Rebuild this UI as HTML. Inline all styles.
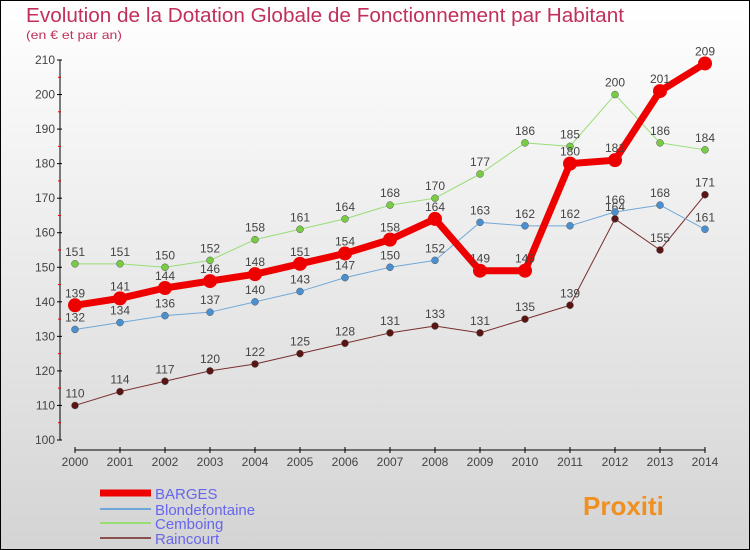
<!DOCTYPE html>
<html><head><meta charset="utf-8"><style>
body{margin:0}
#c{width:750px;height:550px;position:relative;overflow:hidden}
svg text{font-family:"Liberation Sans",sans-serif}
</style></head><body>
<div id="c">
<svg id="s" width="750" height="550" xmlns="http://www.w3.org/2000/svg">
<defs><linearGradient id="bg" x1="0" y1="0" x2="0" y2="1"><stop offset="0" stop-color="#ffffff"/><stop offset="1" stop-color="#d4d4d4"/></linearGradient></defs>
<rect x="0.5" y="0.5" width="749" height="549" fill="url(#bg)" stroke="#000"/>
<text x="26" y="22" font-size="20" fill="#c0305a" textLength="598" lengthAdjust="spacingAndGlyphs">Evolution de la Dotation Globale de Fonctionnement par Habitant</text>
<text x="26" y="39" font-size="12" fill="#c0305a" textLength="96" lengthAdjust="spacingAndGlyphs">(en € et par an)</text>
<g id="axes"></g><g id="series"></g><g id="legend"></g>
</svg></div>
<script>
const years=[2000,2001,2002,2003,2004,2005,2006,2007,2008,2009,2010,2011,2012,2013,2014];
const barges=[139,141,144,146,148,151,154,158,164,149,149,180,181,201,209];
const blondefontaine=[132,134,136,137,140,143,147,150,152,163,162,162,166,168,161];
const cemboing=[151,151,150,152,158,161,164,168,170,177,186,185,200,186,184];
const raincourt=[110,114,117,120,122,125,128,131,133,131,135,139,164,155,171];
const yTicks=[100,110,120,130,140,150,160,170,180,190,200,210];
const NS="http://www.w3.org/2000/svg";
const x=i=>75+i*45;
const y=v=>440-(v-100)*380/110;
function mk(t,a,p){const e=document.createElementNS(NS,t);for(const k in a)e.setAttribute(k,a[k]);p.appendChild(e);return e;}
const ax=document.getElementById('axes');
let yl=mk('line',{x1:60,y1:y(210),x2:60,y2:y(100),stroke:'#000'},ax);


yTicks.forEach(v=>{mk('line',{x1:57,x2:62,y1:y(v),y2:y(v),stroke:'#000'},ax);
 if(v<210)mk('line',{x1:58,x2:61,y1:y(v+5),y2:y(v+5),stroke:'#e00'},ax);
 const t=mk('text',{x:55,y:y(v)+4,'font-size':12,fill:'#444','text-anchor':'end'},ax);t.textContent=v;
 
 });
let xl=mk('line',{x1:x(0),y1:450,x2:x(14),y2:450,stroke:'#000'},ax);


years.forEach((yr,i)=>{mk('line',{x1:x(i),x2:x(i),y1:447,y2:453,stroke:'#000'},ax);
 const t=mk('text',{x:x(i),y:466,'font-size':12,fill:'#444','text-anchor':'middle'},ax);t.textContent=yr;
 
 });
const S=[
 {n:'raincourt',d:raincourt,c:'#7a2e2e',f:'#5a1414',w:1,r:3.5},
 {n:'cemboing',d:cemboing,c:'#99dd77',f:'#77cc44',w:1,r:3.5},
 {n:'blondefontaine',d:blondefontaine,c:'#6fa8d8',f:'#4a90d0',w:1,r:3.5},
 {n:'barges',d:barges,c:'#ee0000',f:'#ee0000',w:7,r:7}];
const sg=document.getElementById('series');
S.forEach(s=>{const g=mk('g',{},sg);
 
 
 mk('polyline',{points:s.d.map((v,i)=>x(i)+','+y(v)).join(' '),fill:'none',stroke:s.c,'stroke-width':s.w,'stroke-linejoin':'round'},g);
 s.d.forEach((v,i)=>{const p=mk('circle',{cx:x(i),cy:y(v),r:s.r,fill:s.f,stroke:s.w>1?'none':'#555','stroke-width':0.5},g);
  
  
  const t=mk('text',{x:x(i),y:y(v)-8,'font-size':12,fill:'#444','text-anchor':'middle'},g);t.textContent=v;
  
  });});
const lg=document.getElementById('legend');
const L=[['BARGES','#ee0000',7,493],['Blondefontaine','#6fa8d8',2,509],['Cemboing','#99dd77',2,523],['Raincourt','#8a5050',2,538]];
L.forEach(l=>{const g=mk('g',{},lg);
 
 
 mk('line',{x1:100,x2:151,y1:l[3],y2:l[3],stroke:l[1],'stroke-width':l[2]},g);
 const t=mk('text',{x:155,y:l[3]+6,'font-size':15,fill:'#6666ee'},g);t.textContent=l[0];});
const pr=mk('text',{x:583,y:515,'font-size':26,'font-weight':'bold',fill:'#f09020'},lg);pr.textContent='Proxiti';


</script></body></html>
